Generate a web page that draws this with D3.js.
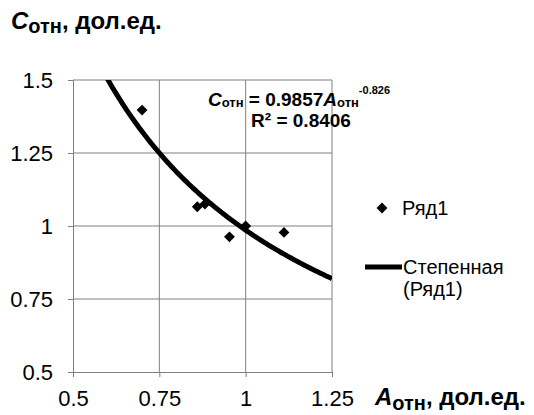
<!DOCTYPE html>
<html>
<head>
<meta charset="utf-8">
<script src="https://cdn.jsdelivr.net/npm/d3@7"></script>
<style>
  body { margin: 0; background: #fff; }
  text { font-family: "Liberation Sans", Arial, sans-serif; fill: #000; }
</style>
</head>
<body>
<svg id="chart" width="534" height="415"></svg>
<script>
// data
var pointsA = [0.70, 0.86, 0.882, 0.953, 1.0, 1.111]
var pointsC = [1.397, 1.066, 1.075, 0.963, 1.0, 0.978]
var xTicks = [0.5, 0.75, 1, 1.25]
var yTicks = [0.5, 0.75, 1, 1.25, 1.5]
// power trendline as printed on the chart
var trendK = 0.9857
var trendP = -0.826
var trendR2 = 0.8406

var svg = d3.select('#chart')

var x = d3.scaleLinear().domain([0.5, 1.25]).range([73, 332])
var y = d3.scaleLinear().domain([0.5, 1.5]).range([372, 80])

// grid
svg.append('g').selectAll('line.vg')
    .data(xTicks.slice(1))
    .enter().append('line')
    .attr('x1', d => x(d)).attr('x2', d => x(d))
    .attr('y1', y(1.5)).attr('y2', y(0.5))
    .attr('stroke', '#808080').attr('stroke-width', 1)
svg.append('g').selectAll('line.hg')
    .data(yTicks.slice(1))
    .enter().append('line')
    .attr('x1', x(0.5)).attr('x2', x(1.25))
    .attr('y1', d => y(d)).attr('y2', d => y(d))
    .attr('stroke', '#808080').attr('stroke-width', 1)

// axes
var xAxis = d3.axisBottom(x).tickValues(xTicks).tickSize(5).tickPadding(13)
    .tickFormat(d3.format('~g'))
var yAxis = d3.axisLeft(y).tickValues(yTicks).tickSize(5).tickPadding(15)
    .tickFormat(d3.format('~g'))

var gx = svg.append('g').attr('transform', 'translate(0,' + y(0.5) + ')').call(xAxis)
var gy = svg.append('g').attr('transform', 'translate(' + x(0.5) + ',0)').call(yAxis)
;[gx, gy].forEach(g => {
    g.select('.domain').attr('stroke', '#808080')
    g.selectAll('.tick line').attr('stroke', '#808080')
    g.selectAll('.tick text')
        .style('font-family', '"Liberation Sans", Arial, sans-serif')
        .style('font-size', '22px').attr('fill', '#000')
})

// trendline
svg.append('clipPath').attr('id', 'plot')
    .append('rect').attr('x', x(0.5)).attr('y', y(1.5))
    .attr('width', x(1.25) - x(0.5)).attr('height', y(0.5) - y(1.5))

var trendX = d3.range(0.5, 1.2501, 0.005)
var line = d3.line().x(d => x(d)).y(d => y(trendK * Math.pow(d, trendP)))
svg.append('path').datum(trendX)
    .attr('d', line)
    .attr('clip-path', 'url(#plot)')
    .attr('fill', 'none').attr('stroke', '#000').attr('stroke-width', 5)

// points
var diamond = d3.symbol().type(d3.symbolDiamond2).size(75)
svg.append('g').selectAll('path')
    .data(pointsA)
    .enter().append('path')
    .attr('d', diamond)
    .attr('transform', (d, i) => 'translate(' + x(d) + ',' + y(pointsC[i]) + ')')
    .attr('fill', '#000')

// equation label
var eq = svg.append('text').attr('x', 299).attr('y', 106)
    .attr('text-anchor', 'middle').style('font-weight', 'bold').style('font-size', '19px')
eq.append('tspan').style('font-style', 'italic').text('C')
eq.append('tspan').attr('dy', 1).style('font-size', '13px').text('отн')
eq.append('tspan').attr('dy', -1).text(' = ' + trendK)
eq.append('tspan').style('font-style', 'italic').text('A')
eq.append('tspan').attr('dy', 1).style('font-size', '13px').text('отн')
eq.append('tspan').attr('dy', -13).style('font-size', '11px').text(trendP)
svg.append('text').attr('x', 301).attr('y', 127)
    .attr('text-anchor', 'middle').style('font-weight', 'bold').style('font-size', '19px')
    .text('R² = ' + trendR2)

// legend
svg.append('path').attr('d', diamond)
    .attr('transform', 'translate(382,208)').attr('fill', '#000')
svg.append('text').attr('x', 402).attr('y', 215).style('font-size', '20px').text('Ряд1')
svg.append('line').attr('x1', 365).attr('x2', 402).attr('y1', 267).attr('y2', 267)
    .attr('stroke', '#000').attr('stroke-width', 5)
svg.append('text').attr('x', 403).attr('y', 274).style('font-size', '20px').text('Степенная')
svg.append('text').attr('x', 403).attr('y', 296).style('font-size', '20px').text('(Ряд1)')

// axis titles
var ty = svg.append('text').attr('x', 11).attr('y', 29)
    .style('font-weight', 'bold').style('font-size', '24px')
ty.append('tspan').style('font-style', 'italic').text('C')
ty.append('tspan').attr('dy', 4).style('font-size', '20px').text('отн')
ty.append('tspan').attr('dy', -4).text(', дол.ед.')

var tx = svg.append('text').attr('x', 375).attr('y', 405)
    .style('font-weight', 'bold').style('font-size', '24px')
tx.append('tspan').style('font-style', 'italic').text('A')
tx.append('tspan').attr('dy', 5).style('font-size', '20px').text('отн')
tx.append('tspan').attr('dy', -5).text(', дол.ед.')
</script>
</body>
</html>
